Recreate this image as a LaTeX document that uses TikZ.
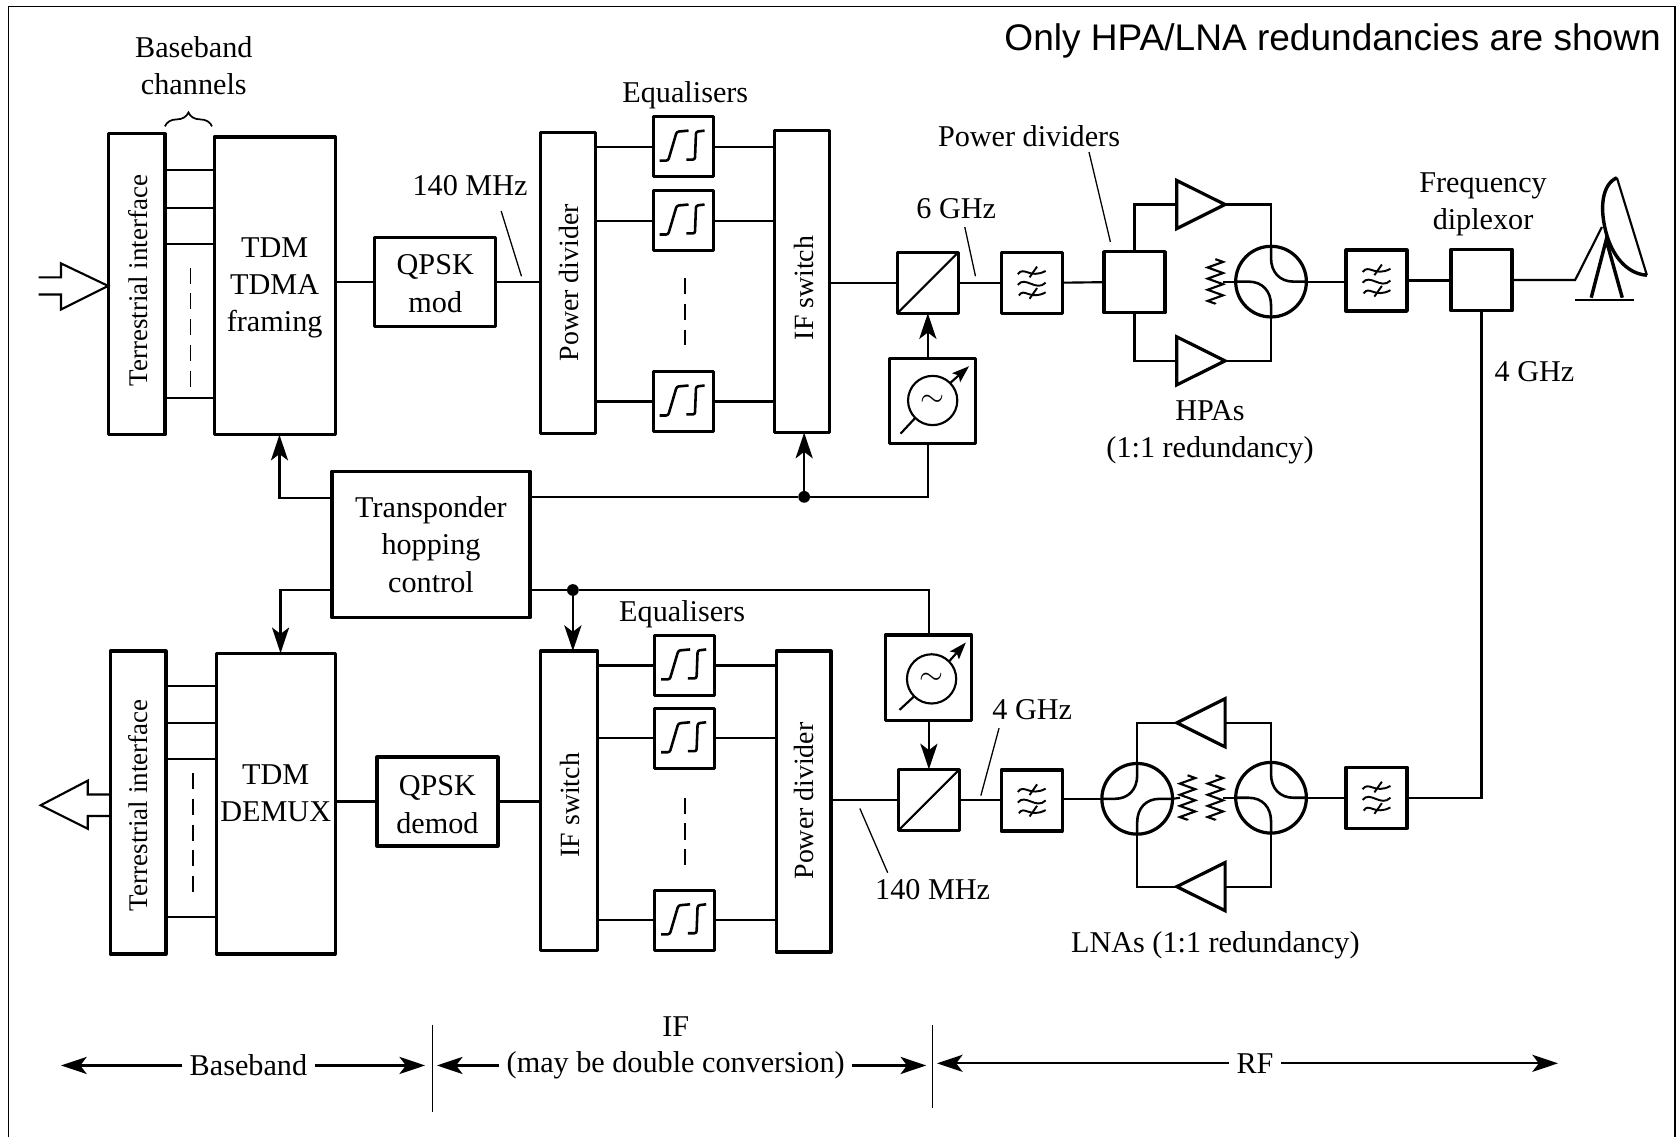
\documentclass[tikz,border=0pt]{standalone}
\usepackage{fontspec}
\setmainfont{Liberation Serif}
\newfontfamily\notefont{Liberation Sans}
\usetikzlibrary{shapes.geometric,arrows.meta,calc,decorations.pathmorphing,decorations.pathreplacing}

\newcommand{\lblfont}{\fontsize{14.1}{17.4}\selectfont}
\newcommand{\rotfont}{\fontsize{13}{15}\selectfont}
\newcommand{\tifont}{\fontsize{12.6}{15}\selectfont}
% small symbols drawn at the centre of a box
\newcommand{\eqsym}[1]{%
  \begin{scope}[shift={(#1)},line width=1.2pt,rounded corners=1pt]
    \draw (-22,13) -- (-14,13) -- (-6,-14) -- (5,-15);
    \draw (3,12) -- (11,12) -- (12,-14) -- (20,-15);
  \end{scope}}
\newcommand{\filtersym}[1]{%
  \begin{scope}[shift={(#1)},line width=0.9pt]
    \draw (-13,-8) .. controls (-7,-16) and (-2,-3) .. (13,-11);
    \draw (-13,2) .. controls (-6,-7) and (4,9) .. (13,0);
    \draw (-12,12) .. controls (-7,4) and (-2,17) .. (13,9);
    \draw (-2,-5) -- (5,-15);
    \draw (-2,15) -- (5,5);
  \end{scope}}
\newcommand{\hybridR}[1]{%
  \begin{scope}[shift={(#1)},line width=1.2pt]
    \draw (0,-33) -- (0,-22) .. controls (0,-9) and (8,0) .. (21,0) -- (33,0);
    \draw (-33,0) -- (-21,0) .. controls (-8,0) and (0,9) .. (0,22) -- (0,33);
  \end{scope}}
\newcommand{\hybridL}[1]{%
  \begin{scope}[shift={(#1)},line width=1.2pt]
    \draw (0,-33) -- (0,-22) .. controls (0,-9) and (-8,0) .. (-21,0) -- (-33,0);
    \draw (33,0) -- (21,0) .. controls (8,0) and (0,9) .. (0,22) -- (0,33);
  \end{scope}}
\newcommand{\resistor}[1]{%
  \draw[wire,decorate,decoration={zigzag,segment length=5.2pt,amplitude=3.6pt}]
    ($(#1)+(0,-21)$) -- ($(#1)+(0,21)$);}
\newcommand{\oscarrow}[3]{%
  \draw[wire] (#2) -- (#1.south west);
  \draw[arr,-{Stealth[length=8pt,width=5.5pt,inset=1.5pt]}] (#1.north east) -- (#3);}

\begin{document}
\begin{tikzpicture}[
    x=0.5pt, y=-0.5pt, font=\lblfont,
    box/.style={draw, line width=1.5pt, line join=round, inner sep=0pt, outer sep=0pt, align=center},
    eqbox/.style={box, minimum width=28pt, minimum height=28pt},
    sq/.style={box, minimum width=28.5pt, minimum height=28.5pt},
    oscbox/.style={box, minimum width=40pt, minimum height=40pt},
    osc/.style={circle, draw, line width=1pt, inner sep=0pt, outer sep=0pt, minimum size=23pt},
    hyb/.style={circle, draw, line width=1.5pt, inner sep=0pt, outer sep=0pt, minimum size=33pt},
    tri/.style={draw, line width=1.5pt, isosceles triangle, isosceles triangle apex angle=53,
                inner sep=0pt, outer sep=0pt, minimum size=22.5pt},
    rottxt/.style={rotate=90, font=\rotfont, inner sep=0pt},
    wire/.style={line width=1pt},
    leader/.style={line width=0.6pt},
    arr/.style={-{Stealth[length=12pt,width=8pt,inset=3pt]}, line width=1pt},
    dashln/.style={line width=0.8pt, dash pattern=on 7.5pt off 4.5pt},
    dotnode/.style={circle, fill, inner sep=0pt, minimum size=5.5pt}
]
\useasboundingbox (0,0) rectangle (1568,1062);

% page frame
\draw[line width=0.8pt] (8,1062) -- (8,6) -- (1564,6) -- (1564,1062);
\node[font=\notefont\fontsize{17.3}{20}\selectfont, anchor=east] (note) at (1558,38) {Only HPA/LNA redundancies are shown};

% transmit chain
\node[box, minimum width=26.5pt, minimum height=140.5pt] (tifA) at (127.5,265.5) {};
\node[rottxt, font=\tifont] (tifAtxt) at (129,262) {Terrestrial interface};
\node[box, minimum width=56.5pt, minimum height=139pt,
      label={[align=center,yshift=-1pt]center:TDM\\TDMA\\framing}] (tdmA) at (256.5,267) {};
\node[box, minimum width=56.5pt, minimum height=41.5pt,
      label={[align=center,yshift=-0.7pt]center:QPSK\\mod}] (qpskA) at (406.5,263.5) {};
\node[box, minimum width=25.5pt, minimum height=140.5pt] (pdivA) at (530.5,264.5) {};
\node[rottxt] (pdivAtxt) at (531,264) {Power divider};
\node[eqbox] (eqA1) at (638,137) {};
\node[eqbox] (eqA2) at (638,206) {};
\node[eqbox] (eqA3) at (638,375) {};
\node[box, minimum width=26pt, minimum height=141pt] (ifsA) at (749,263) {};
\node[rottxt] (ifsAtxt) at (751,269) {IF switch};
\node[sq] (mixA) at (866.5,264) {};
\node[oscbox] (oscboxA) at (871,374.5) {};
\node[osc] (oscA) at (871,374) {$\sim$};
\node[sq] (fltA) at (963.5,264) {};
\node[sq] (pdA) at (1059.5,263.5) {};
\node[tri, anchor=apex] (hpaA) at (1144,191) {};
\node[tri, anchor=apex] (hpaB) at (1144,337) {};
\node[hyb] (hybA) at (1187,263) {};
\coordinate (resA) at (1135,263);
\node[sq] (fltB) at (1285.5,262) {};
\node[sq] (dipl) at (1383.5,261.5) {};

% receive chain
\node[box, minimum width=26pt, minimum height=141.5pt] (tifB) at (129,749.5) {};
\node[rottxt, font=\tifont] (tifBtxt) at (129,752) {Terrestrial interface};
\node[box, minimum width=55.5pt, minimum height=140.5pt,
      label={[align=center,yshift=4.7pt]center:TDM\\DEMUX}] (tdmB) at (257.5,750.5) {};
\node[box, minimum width=56.5pt, minimum height=41.5pt,
      label={[align=center,yshift=-1.5pt]center:QPSK\\demod}] (qpskB) at (408.5,748.5) {};
\node[box, minimum width=26.5pt, minimum height=140pt] (ifsB) at (531.5,748) {};
\node[rottxt] (ifsBtxt) at (532,752) {IF switch};
\node[eqbox] (eqB1) at (639.5,621.5) {};
\node[eqbox] (eqB2) at (639.5,689.5) {};
\node[eqbox] (eqB3) at (639.5,859.5) {};
\node[box, minimum width=25.5pt, minimum height=140.5pt] (pdivB) at (750.5,748.5) {};
\node[rottxt] (pdivBtxt) at (751,748) {Power divider};
\node[sq] (mixB) at (867.5,747) {};
\node[oscbox] (oscboxB) at (867,633) {};
\node[osc] (oscB) at (870,634) {$\sim$};
\node[sq] (fltC) at (963.5,747.5) {};
\node[hyb] (hybB) at (1062,746) {};
\node[hyb] (hybC) at (1187,745) {};
\coordinate (resB) at (1109,745);
\coordinate (resC) at (1135,745);
\node[tri, shape border rotate=180, anchor=apex] (lnaA) at (1099,675) {};
\node[tri, shape border rotate=180, anchor=apex] (lnaB) at (1099,828) {};
\node[sq] (fltD) at (1285.5,745) {};

\node[box, minimum width=92.5pt, minimum height=68.5pt] (thc) at (402.5,508.5) {Transponder\\hopping\\control};
\node[dotnode] (dotA) at (751,464) {};
\node[dotnode] (dotB) at (535,551) {};

% symbols
\eqsym{eqA1} \eqsym{eqA2} \eqsym{eqA3}
\eqsym{eqB1} \eqsym{eqB2} \eqsym{eqB3}
\filtersym{fltA} \filtersym{fltB} \filtersym{fltC} \filtersym{fltD}
\hybridR{hybA} \hybridL{hybB} \hybridR{hybC}
\resistor{resA} \resistor{resB} \resistor{resC}
\oscarrow{oscA}{841,405}{905,342}
\oscarrow{oscB}{840,663}{902,600}
\draw[wire] (mixA.south west) -- (mixA.north east);
\draw[wire] (mixB.south west) -- (mixB.north east);

% labels
\node[align=center] (lblch) at (181,61) {Baseband\\channels};
\node (lblifA) at (439,173) {140 MHz};
\node (lbleqA) at (640,89) {Equalisers};
\node (lblrfA) at (893,195) {6 GHz};
\node (lblpd) at (961,127) {Power dividers};
\node[align=center] (lbldip) at (1385,191) {Frequency\\diplexor};
\node (lbl4g) at (1433,347) {4 GHz};
\node[align=center] (lblhpa) at (1130,404) {HPAs\\(1:1 redundancy)};
\node (lbleqB) at (637,574) {Equalisers};
\node (lblrfB) at (964,663) {4 GHz};
\node (lblifB) at (871,831) {140 MHz};
\node (lbllna) at (1135,883) {LNAs (1:1 redundancy)};

% channels between interface and framing
\draw[wire] (tifA.east |- 0,159) -- (tdmA.west |- 0,159);
\draw[wire] (tifA.east |- 0,194) -- (tdmA.west |- 0,194);
\draw[wire] (tifA.east |- 0,228) -- (tdmA.west |- 0,228);
\draw[wire] (tifA.east |- 0,372) -- (tdmA.west |- 0,372);
\draw[dashln] (178,250) -- (178,362);
\draw[wire] (tifB.east |- 0,641) -- (tdmB.west |- 0,641);
\draw[wire] (tifB.east |- 0,675) -- (tdmB.west |- 0,675);
\draw[wire] (tifB.east |- 0,709) -- (tdmB.west |- 0,709);
\draw[wire] (tifB.east |- 0,856) -- (tdmB.west |- 0,856);
\draw[dashln] (180,722) -- (180,835);
\draw[line width=0.8pt, decorate, decoration={brace,amplitude=6.5pt}]
    ($(tifA.north east)+(0,-7)$) -- ($(tdmA.north west)+(-2,-10)$);

% hollow arrows
\draw[wire] (36,259) -- (57,259) -- (57,246) -- (tifA.west |- 0,267) -- (57,289) -- (57,275) -- (36,275);
\draw[wire] (tifB.west |- 0,742) -- (82,742) -- (82,729) -- (38,752) -- (82,774) -- (82,762) -- (tifB.west |- 0,762);

% transmit wires
\draw[wire] (tdmA.east |- qpskA) -- (qpskA.west);
\draw[wire] (qpskA.east) -- (pdivA.west |- qpskA);
\draw[wire] (pdivA.east |- eqA1) -- (eqA1.west);
\draw[wire] (pdivA.east |- eqA2) -- (eqA2.west);
\draw[wire] (pdivA.east |- eqA3) -- (eqA3.west);
\draw[wire] (eqA1.east) -- (ifsA.west |- eqA1);
\draw[wire] (eqA2.east) -- (ifsA.west |- eqA2);
\draw[wire] (eqA3.east) -- (ifsA.west |- eqA3);
\draw[dashln] (640,260) -- (640,322);
\draw[wire] (ifsA.east |- mixA) -- (mixA.west);
\draw[wire] (mixA.east) -- (fltA.west);
\draw[wire] (fltA.east) -- (pdA.west);
\draw[arr] (mixA.south |- oscboxA.north) -- (mixA.south);
\draw[wire] (pdA.north) |- (hpaA.lower side);
\draw[wire] (pdA.south) |- (hpaB.lower side);
\draw[wire] (hpaA.apex) -| (hybA.north);
\draw[wire] (hpaB.apex) -| (hybA.south);
\draw[wire] (hybA.west) -- ($(resA)+(7,0)$);
\draw[wire] (hybA.east) -- (fltB.west |- hybA.east);
\draw[wire] (fltB.east) -- (dipl.west |- fltB.east);

% antenna
\coordinate (antA) at (1471,259);
\coordinate (antB) at (1496,212);
\draw[wire] (dipl.east) -- (antA |- dipl.east) -- (antB);
\draw[line width=1.6pt] (1510,166) .. controls (1496,172) and (1493,195) .. (1501,221)
    .. controls (1508,243) and (1522,256) .. (1538,257);
\draw[wire] (1538,257) -- (1510,166);
\draw[line width=1.6pt] (1486,278) -- (1500,224) -- (1515,278);
\draw[wire] (1471,280) -- (1526,280);

% receive wires
\draw[wire] (dipl.south) |- (fltD.east);
\draw[wire] (fltD.west) -- (hybC.east |- fltD);
\draw[wire] (hybC.west) -- ($(resC)+(7,0)$);
\draw[wire] (hybB.east) -- ($(resB)+(-7,0)$);
\draw[wire] (hybB.north) |- (lnaA.apex);
\draw[wire] (hybB.south) |- (lnaB.apex);
\draw[wire] (lnaA.lower side) -| (hybC.north);
\draw[wire] (lnaB.lower side) -| (hybC.south);
\draw[wire] (fltC.east |- hybB) -- (hybB.west);
\draw[wire] (mixB.east) -- (fltC.west |- mixB.east);
\draw[arr] (mixB.north |- oscboxB.south) -- (mixB.north);
\draw[wire] (pdivB.east |- mixB) -- (mixB.west);
\draw[wire] (ifsB.east |- eqB1) -- (eqB1.west);
\draw[wire] (ifsB.east |- eqB2) -- (eqB2.west);
\draw[wire] (ifsB.east |- eqB3) -- (eqB3.west);
\draw[wire] (eqB1.east) -- (pdivB.west |- eqB1);
\draw[wire] (eqB2.east) -- (pdivB.west |- eqB2);
\draw[wire] (eqB3.east) -- (pdivB.west |- eqB3);
\draw[dashln] (640,745) -- (640,808);
\draw[wire] (qpskB.east) -- (ifsB.west |- qpskB);
\draw[wire] (tdmB.east |- qpskB) -- (qpskB.west);

% hopping control
\draw[arr] (thc.west |- 0,465) -| (tdmA.south -| 261,0);
\draw[wire] (thc.east |- 0,464) -- (dotA) -| (oscboxA.south -| mixA.south);
\draw[arr] (dotA) -- (dotA |- ifsA.south);
\draw[arr] (thc.west |- 0,551) -| (tdmB.north -| 262,0);
\draw[wire] (thc.east |- 0,551) -- (dotB) -| (oscboxB.north -| mixB.north);
\draw[arr] (dotB) -- (dotB |- ifsB.north);

% leaders
\draw[leader] (lblifA) ++(29,24) -- (487,258);
\draw[leader] (lblrfA) ++(8,17) -- (911,258);
\draw[leader] (lblpd) ++(56,15) -- (1037,226);
\draw[leader] (lblrfB) ++(-31,17) -- (916,743);
\draw[leader] (lblifB) ++(-42,-16) -- (803,755);

% bands along the bottom
\node (lblbase) at (232,995) {Baseband};
\node (lblif) at (631,995) {(may be double conversion)};
\node (lblifx) at (631,959) {IF};
\node (lblrf) at (1172,993) {RF};
\coordinate (sepA) at (404,957);
\coordinate (sepB) at (871,957);
\draw[leader] (sepA) -- ++(0,81);
\draw[leader] (sepB) -- ++(0,78);
\draw[arr] (lblbase.west) -- (lblbase.west -| 57,0);
\draw[arr, shorten >=3.5pt] (lblbase.east) -- (sepA |- lblbase.east);
\draw[arr, shorten >=2pt] (lblif.west) -- (sepA |- lblif.west);
\draw[arr, shorten >=3pt] (lblif.east) -- (sepB |- lblif.east);
\draw[arr, shorten >=2pt] (lblrf.west) -- (sepB |- lblrf.west);
\draw[arr] (lblrf.east) -- (lblrf.east -| 1455,0);

\end{tikzpicture}
\end{document}
